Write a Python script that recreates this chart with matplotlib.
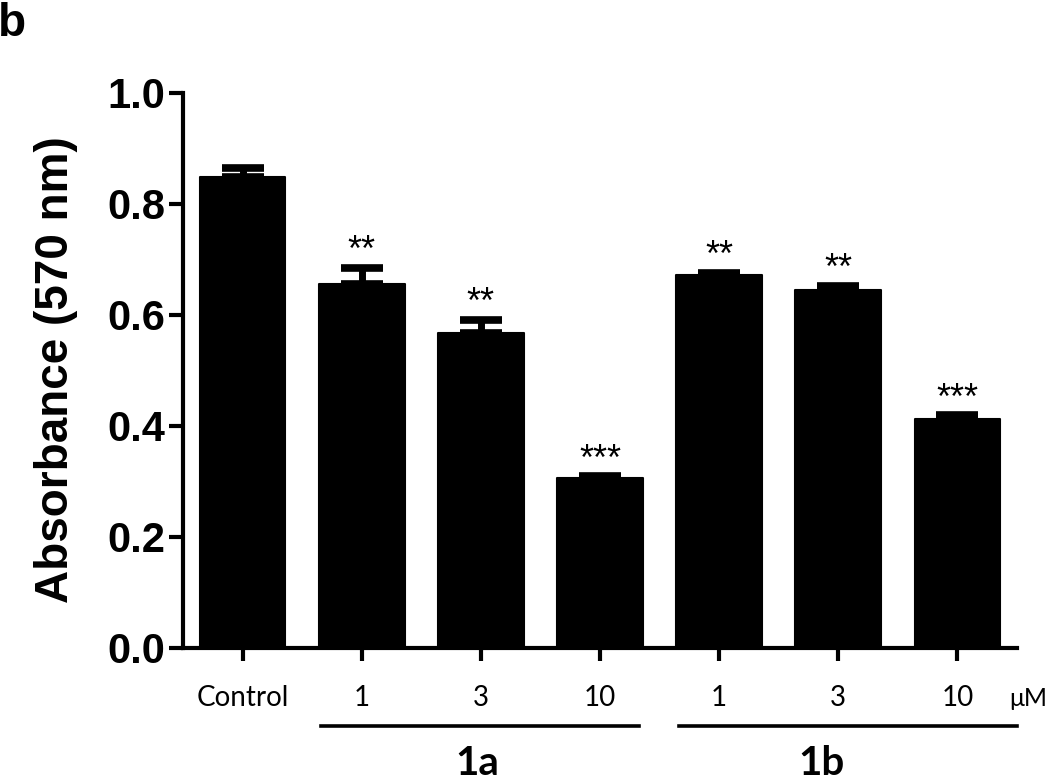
import matplotlib
matplotlib.use('Agg')
import matplotlib.pyplot as plt
import numpy as np

# data
labels = ['Control', '1', '3', '10', '1', '3', '10']
absorbance = [0.848, 0.655, 0.568, 0.307, 0.672, 0.645, 0.413]
sem = [0.017, 0.029, 0.023, 0.002, 0.004, 0.007, 0.006]
stars = ['', '**', '**', '***', '**', '**', '***']
groups = ['1a', '1b']
group_spans = [(0.66, 3.33), (3.66, 6.5)]
group_label_x = [1.97, 4.86]

fig = plt.figure(figsize=(10.5, 7.82), dpi=100)
ax = fig.add_axes([0.1743, 0.1714, 0.7943, 0.7097])

x = np.arange(len(labels))

# upper error bars only
ax.errorbar(x, absorbance, yerr=[np.zeros(len(sem)), sem], fmt='none',
            ecolor='black', elinewidth=5, capsize=15, capthick=5.5, zorder=2)
ax.bar(x, absorbance, width=0.72, color='black', edgecolor='black',
       linewidth=1.5, joinstyle='round', zorder=3)

# significance stars
for xi, yi, ei, s in zip(x, absorbance, sem, stars):
    if s:
        ax.annotate(s, (xi, yi + ei), xytext=(0, 5), textcoords='offset points',
                    ha='center', va='baseline', fontsize=26,
                    family='Liberation Sans', zorder=4)

ax.set_xlim(-0.5, 6.5)
ax.set_ylim(0, 1.0)
ax.set_yticks([0.0, 0.2, 0.4, 0.6, 0.8, 1.0])
ax.set_yticklabels(['0.0', '0.2', '0.4', '0.6', '0.8', '1.0'],
                   fontsize=30, fontweight='bold', family='Liberation Sans')
ax.set_xticks(x)
ax.set_xticklabels(labels, fontsize=20, family='Lato')

for side in ['top', 'right']:
    ax.spines[side].set_visible(False)
for side in ['left', 'bottom']:
    ax.spines[side].set_linewidth(3)
ax.tick_params(axis='y', length=10, width=3, pad=3)
ax.tick_params(axis='x', length=9, width=3, pad=18)

fig.text(0.053, 0.527, 'Absorbance (570 nm)', rotation=90, ha='center',
         va='center', fontsize=33, fontweight='bold', family='Liberation Sans')

fig.text(0.997, 0.0972, 'μM', ha='right', va='baseline', fontsize=18,
         family='Lato')

# compound group lines and labels
for name, (x0, x1), gx in zip(groups, group_spans, group_label_x):
    ax.plot([x0, x1], [-0.1405, -0.1405], color='black', lw=2.6,
            transform=ax.get_xaxis_transform(), clip_on=False)
    ax.text(gx, -0.2295, name, transform=ax.get_xaxis_transform(),
            ha='center', va='baseline', fontsize=29, fontweight='bold',
            family='Lato')

fig.text(-0.002, 0.997, 'b', ha='left', va='top', fontsize=33,
         fontweight='bold', family='Liberation Sans')

fig.savefig('out.png', dpi=100)
